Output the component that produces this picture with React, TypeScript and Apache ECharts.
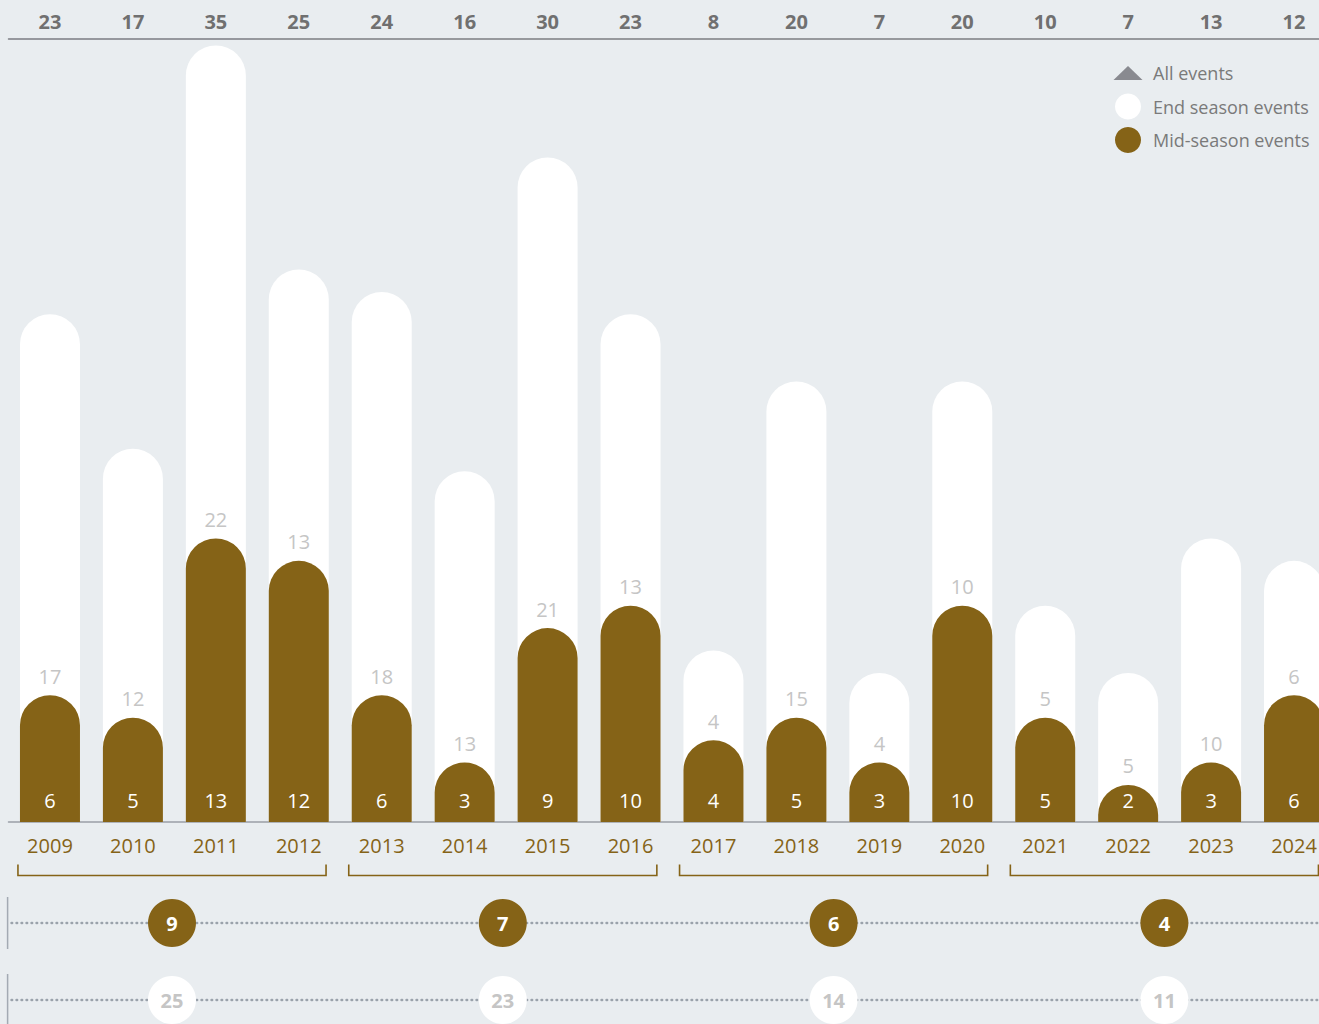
import React, { useEffect, useRef } from 'react';
import * as echarts from 'echarts';

const years = ['2009', '2010', '2011', '2012', '2013', '2014', '2015', '2016', '2017', '2018', '2019', '2020', '2021', '2022', '2023', '2024'];
const allEvents = [23, 17, 35, 25, 24, 16, 30, 23, 8, 20, 7, 20, 10, 7, 13, 12];
const endSeason = [17, 12, 22, 13, 18, 13, 21, 13, 4, 15, 4, 10, 5, 5, 10, 6];
const midSeason = [6, 5, 13, 12, 6, 3, 9, 10, 4, 5, 3, 10, 5, 2, 3, 6];
const periods = [[0, 3], [4, 7], [8, 11], [12, 15]];
const midAvg = [9, 7, 6, 4];
const allAvg = [25, 23, 14, 11];
const avgRows = ['Mid-season events average', 'All events average'];

const BROWN = '#856317';
const BG = '#e9edf0';
const FONT = 'Open Sans';
const TRI = 'path://M0,0L0,0M40,26L40,26M5.5,20L20,6L34.5,20Z';

export default function App() {
  const ref = useRef<HTMLDivElement>(null);
  useEffect(() => {
    if (!ref.current) return;
    const chart = echarts.init(ref.current, undefined, { renderer: 'svg' });
    const option: any = {
      animation: false,
      backgroundColor: BG,
      textStyle: { fontFamily: FONT },
      legend: {
        selectedMode: false,
        orient: 'vertical',
        left: 1103,
        top: 55,
        itemWidth: 40,
        itemHeight: 26,
        itemGap: 7.5,
        textStyle: { color: '#7a7a7a', fontSize: 18, fontFamily: FONT },
        data: [
          { name: 'All events', icon: TRI, itemStyle: { color: '#707078', borderWidth: 0 } },
          { name: 'End season events', icon: 'circle', itemStyle: { color: '#ffffff', borderWidth: 0 } },
          { name: 'Mid-season events', icon: 'circle', itemStyle: { color: BROWN, borderWidth: 0 } },
        ],
      },
      grid: [
        { left: 8.5, right: 4.5, top: 45.4, bottom: 218 },
        { left: 6.6, right: 10.2, top: 884.5, height: 154 },
      ],
      xAxis: [
        {
          type: 'category',
          gridIndex: 0,
          data: years,
          axisLine: { onZero: false, lineStyle: { color: '#9a9ea6', width: 1.5 } },
          axisTick: { show: false },
          axisLabel: { color: BROWN, fontSize: 20, margin: 13, fontFamily: FONT },
        },
        {
          type: 'category',
          gridIndex: 0,
          position: 'top',
          offset: 6.4,
          data: allEvents.map(String),
          axisLine: { lineStyle: { color: '#7b7c82', width: 1.5 } },
          axisTick: { show: false },
          axisLabel: { color: '#707070', fontSize: 20, fontWeight: 'bold', margin: 8, fontFamily: FONT },
        },
        { type: 'value', gridIndex: 1, min: -0.5, max: 15.5, show: false },
      ],
      yAxis: [
        { type: 'value', gridIndex: 0, min: 0.348, max: 35, show: false },
        { type: 'category', gridIndex: 1, data: avgRows, inverse: true, show: false },
      ],
      series: [
        {
          name: 'All events',
          type: 'scatter',
          xAxisIndex: 0,
          yAxisIndex: 0,
          data: [],
          itemStyle: { color: '#707078' },
        },
        {
          name: 'End season events',
          type: 'bar',
          xAxisIndex: 0,
          yAxisIndex: 0,
          data: allEvents,
          barWidth: 60,
          barGap: '-100%',
          itemStyle: { color: '#ffffff', borderRadius: [30, 30, 0, 0] },
          z: 2,
        },
        {
          name: 'Mid-season events',
          type: 'bar',
          xAxisIndex: 0,
          yAxisIndex: 0,
          data: midSeason,
          barWidth: 60,
          barGap: '-100%',
          itemStyle: { color: BROWN, borderRadius: [30, 30, 0, 0] },
          label: {
            show: true,
            position: 'insideBottom',
            distance: 12,
            color: '#ffffff',
            fontSize: 20,
            fontFamily: FONT,
            formatter: '{c}',
          },
          z: 3,
        },
        {
          name: 'endSeasonLabels',
          type: 'bar',
          xAxisIndex: 0,
          yAxisIndex: 0,
          data: midSeason,
          barWidth: 60,
          barGap: '-100%',
          itemStyle: { color: 'transparent' },
          label: {
            show: true,
            position: 'top',
            distance: 9,
            color: '#c5c5c5',
            fontSize: 20,
            fontFamily: FONT,
            formatter: (p: any) => String(endSeason[p.dataIndex]),
          },
          z: 4,
        },
        {
          name: 'periodBrackets',
          type: 'custom',
          xAxisIndex: 2,
          yAxisIndex: 1,
          data: periods.map((p) => [p[0], p[1], 0]),
          encode: { x: [0, 1], y: 2 },
          renderItem: (params: any, api: any) => {
            const a = api.coord([api.value(0), 0]);
            const b = api.coord([api.value(1), 0]);
            const yb = a[1] - 47.5;
            const yt = yb - 11;
            return {
              type: 'polyline',
              shape: { points: [[a[0] - 30, yt], [a[0] - 30, yb], [b[0] + 30, yb], [b[0] + 30, yt]] },
              style: { stroke: BROWN, lineWidth: 1.6, fill: 'none' },
            };
          },
          z: 1,
        },
        {
          name: 'avgRows',
          type: 'custom',
          xAxisIndex: 2,
          yAxisIndex: 1,
          data: avgRows.map((_, i) => [-0.5, i]),
          encode: { x: 0, y: 1 },
          renderItem: (params: any, api: any) => {
            const cs = params.coordSys;
            const y = api.coord([api.value(0), api.value(1)])[1];
            const left = cs.x + 1;
            return {
              type: 'group',
              children: [
                { type: 'line', shape: { x1: left, y1: y - 26, x2: left, y2: y + 26 }, style: { stroke: '#a3aab3', lineWidth: 1.5 } },
                {
                  type: 'line',
                  shape: { x1: left + 4, y1: y, x2: cs.x + cs.width + 20, y2: y },
                  style: { stroke: '#9aa2ab', lineWidth: 2.6, lineDash: [0.5, 4.5], lineCap: 'round' },
                },
              ],
            };
          },
          z: 1,
        },
        {
          name: 'midAverage',
          type: 'scatter',
          xAxisIndex: 2,
          yAxisIndex: 1,
          data: midAvg.map((v, g) => [(periods[g][0] + periods[g][1]) / 2, 0, v]),
          encode: { x: 0, y: 1 },
          symbol: 'circle',
          symbolSize: 48,
          itemStyle: { color: BROWN, opacity: 1 },
          label: {
            show: true,
            position: 'inside',
            formatter: (p: any) => String(p.value[2]),
            color: '#ffffff',
            fontWeight: 'bold',
            fontSize: 20,
            fontFamily: FONT,
          },
          z: 5,
        },
        {
          name: 'allAverage',
          type: 'scatter',
          xAxisIndex: 2,
          yAxisIndex: 1,
          data: allAvg.map((v, g) => [(periods[g][0] + periods[g][1]) / 2, 1, v]),
          encode: { x: 0, y: 1 },
          symbol: 'circle',
          symbolSize: 48,
          itemStyle: { color: '#ffffff', opacity: 1 },
          label: {
            show: true,
            position: 'inside',
            formatter: (p: any) => String(p.value[2]),
            color: '#c5c5c5',
            fontWeight: 'bold',
            fontSize: 20,
            fontFamily: FONT,
          },
          z: 5,
        },
      ],
    };
    chart.setOption(option);
    return () => chart.dispose();
  }, []);
  return (
    <div style={{ position: 'absolute', left: 0, top: 0, width: 1319, height: 1024, overflow: 'hidden', background: BG }}>
      <div ref={ref} style={{ width: 1340, height: 1040 }} />
    </div>
  );
}
